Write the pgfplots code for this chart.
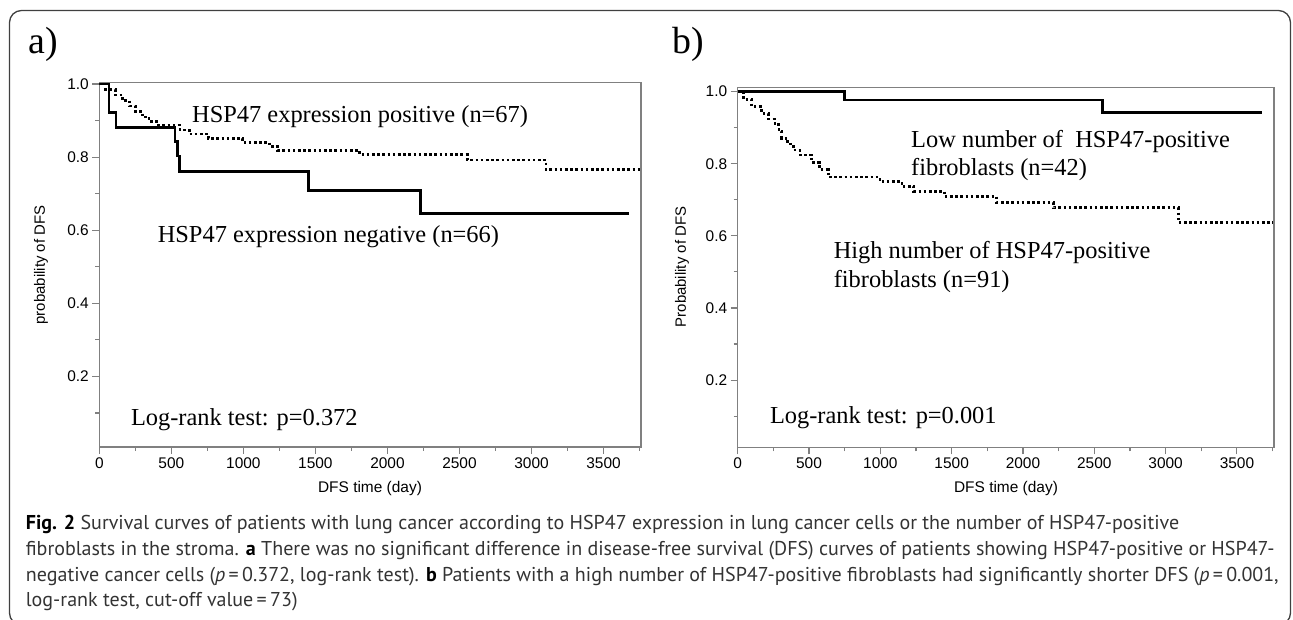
\documentclass[border=0pt]{standalone}
\usepackage{fontspec}
\setmainfont{Liberation Serif}
\newfontfamily\helv{Liberation Sans}
\newfontfamily\capfont{PT Sans}
\usepackage{pgfplots}
\pgfplotsset{compat=1.18}
\pgfplotsset{km/.style={
  scale only axis,
  xmin=0, xmax=3760,
  axis line style={draw=black!50, line width=1.1bp},
  tick style={draw=black!50, line width=1.1bp},
  tick align=outside, xtick pos=bottom, ytick pos=left,
  major tick length=7bp, minor tick length=4bp,
  xtick={0,500,1000,1500,2000,2500,3000,3500},
  xticklabels={0,500,1000,1500,2000,2500,3000,3500},
  minor xtick={250,750,1250,1750,2250,2750,3250,3750},
  ytick={0.2,0.4,0.6,0.8,1.0}, yticklabels={0.2,0.4,0.6,0.8,1.0},
  minor ytick={0.1,0.3,0.5,0.7,0.9},
  ticklabel style={font=\helv\fontsize{15.5}{16}\selectfont},
  solid/.style={const plot, black, line width=2.8bp},
  dotted/.style={const plot, black, line width=2.8bp, dash pattern=on 2.6bp off 2.6bp},
}}
\begin{document}
\begin{tikzpicture}[x=1bp,y=1bp]
\useasboundingbox (0,0) rectangle (1293,620);
\draw[black!75, line width=1.3bp, rounded corners=12bp] (9.5,-5) rectangle (1290.5,609.5);

% Panel a
\begin{axis}[km, at={(99.3bp,173bp)}, anchor=south west,
  width=541.7bp, height=364.3bp, ymin=0.007, ymax=1.0036]
\addplot[solid] coordinates {
 (0,1) (67,0.922) (116,0.881) (526,0.842) (545,0.803) (556,0.760)
 (1452,0.708) (2227,0.645) (3680,0.645)};
\addplot[dotted] coordinates {
 (0,1) (45,0.985) (110,0.970) (160,0.955) (210,0.940) (250,0.925)
 (300,0.910) (345,0.897) (400,0.888) (560,0.874) (625,0.863) (757,0.851)
 (996,0.840) (1182,0.830) (1236,0.818) (1807,0.807) (2555,0.792)
 (3100,0.766) (3755,0.766)};
\end{axis}

% Panel b
\begin{axis}[km, at={(737.7bp,172.7bp)}, anchor=south west,
  width=536.3bp, height=360bp, ymin=0.0136, ymax=1.012]
\addplot[solid] coordinates {
 (0,1) (751,0.977) (2560,0.943) (3674,0.943)};
\addplot[dotted] coordinates {
 (0,1) (40,0.979) (98,0.958) (168,0.940) (215,0.924) (261,0.908)
 (290,0.890) (308,0.871) (350,0.855) (390,0.838) (436,0.824) (520,0.803)
 (576,0.783) (635,0.763) (997,0.750) (1152,0.737) (1235,0.723)
 (1449,0.709) (1816,0.692) (2212,0.678) (3089,0.637) (3750,0.637)};
\end{axis}

% panel letters
\node[anchor=west, inner sep=0, font=\fontsize{38}{40}\selectfont] at (28,576) {a)};
\node[anchor=west, inner sep=0, font=\fontsize{38}{40}\selectfont] at (672.6,576) {b)};

% axis labels
\node[rotate=90, inner sep=0, font=\helv\fontsize{15}{16}\selectfont] at (41,355) {probability of DFS};
\node[rotate=90, inner sep=0, font=\helv\fontsize{15}{16}\selectfont] at (682,353) {Probability of DFS};
\node[inner sep=0, font=\helv\fontsize{15.5}{16}\selectfont] at (370,131) {DFS time (day)};
\node[inner sep=0, font=\helv\fontsize{15.5}{16}\selectfont] at (1006,131) {DFS time (day)};

% annotations
\begin{scope}[every node/.style={anchor=west, inner sep=0, font=\fontsize{24.5}{28}\selectfont}]
\node at (192,503.3) {HSP47 expression positive (n=67)};
\node at (157.6,383.3) {HSP47 expression negative (n=66)};
\node at (130.8,200) {Log-rank test: p=0.372};
\node at (911,478.3) {Low number of\ \ HSP47-positive};
\node at (911,450) {fibroblasts (n=42)};
\node at (833.6,367) {High number of HSP47-positive};
\node at (833.6,338.3) {fibroblasts (n=91)};
\node at (769.8,202) {Log-rank test: p=0.001};
\end{scope}

% caption
\begin{scope}[every node/.style={anchor=base west, inner sep=0, text=black!80, font=\capfont\fontsize{20.1}{24}\selectfont}]
\node at (25.7,90) {\textbf{\color{black}Fig. 2} Survival curves of patients with lung cancer according to HSP47 expression in lung cancer cells or the number of HSP47-positive};
\node at (25.7,64) {fibroblasts in the stroma. \textbf{\color{black}a} There was no significant difference in disease-free survival (DFS) curves of patients showing HSP47-positive or HSP47-};
\node at (25.7,38.5) {negative cancer cells (\textit{p}\,=\,0.372, log-rank test). \textbf{\color{black}b} Patients with a high number of HSP47-positive fibroblasts had significantly shorter DFS (\textit{p}\,=\,0.001,};
\node at (25.7,13) {log-rank test, cut-off value\,=\,73)};
\end{scope}
\end{tikzpicture}
\end{document}
